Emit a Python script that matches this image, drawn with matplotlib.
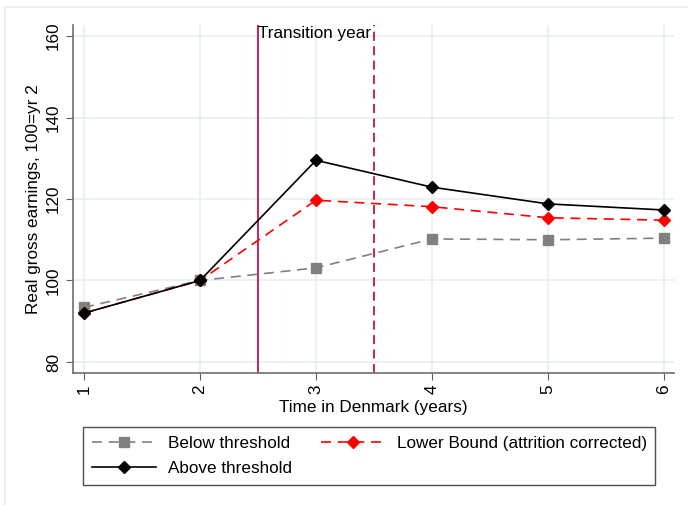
import matplotlib.pyplot as plt
from matplotlib.lines import Line2D

plt.rcParams['font.family'] = ['Liberation Sans', 'DejaVu Sans']

# years in Denmark and indexed earnings (100 = year 2)
years = [1, 2, 3, 4, 5, 6]
below = [93.4, 100.0, 103.1, 110.2, 110.0, 110.4]
lower_bound = [92.0, 100.0, 119.7, 118.1, 115.4, 114.8]
above = [92.0, 100.0, 129.5, 122.9, 118.8, 117.3]

y_ticks = [80, 100, 120, 140, 160]
transition = [2.5, 3.5]

fs = 12.3

fig = plt.figure(figsize=(6.88, 5.05), dpi=100)
ax = fig.add_axes([73 / 688, 1 - 373 / 505, 601 / 688, 348 / 505])

grid_col = '#e6eef0'
for x in years:
    ax.axvline(x, color=grid_col, lw=1.1, zorder=0)
for y in y_ticks:
    ax.axhline(y, color=grid_col, lw=1.1, zorder=0)

vcol = '#c4124a'
ax.axvline(transition[0], color=vcol, lw=1.3, zorder=1)
ax.axvline(transition[1], color=vcol, lw=1.3, ls=(0, (5, 3)), zorder=1)
ax.text(transition[0], 162.4, 'Transition year', ha='left', va='top', fontsize=fs)

ax.plot(years, below, color='#808080', ls=(0, (6, 4)), lw=1.2,
        marker='s', ms=6.5, mec='#808080', mfc='#808080', zorder=3)
ax.plot(years, lower_bound, color='#ff0000', ls=(0, (6, 4)), lw=1.2,
        marker='D', ms=6.5, mec='#ff0000', mfc='#ff0000', zorder=4)
ax.plot(years, above, color='black', lw=1.2,
        marker='D', ms=6.5, mec='black', mfc='black', zorder=5)

ax.set_xlim(0.905, 6.086)
ax.set_ylim(77.3, 162.7)
ax.set_xticks(years)
ax.set_yticks(y_ticks)
ax.tick_params(axis='both', direction='out', length=5, color='#606060',
               labelsize=fs)
ax.tick_params(axis='y', labelrotation=90)
ax.tick_params(axis='x', labelrotation=90)
for lab in ax.get_yticklabels():
    lab.set_va('center')

for side in ['top', 'right']:
    ax.spines[side].set_visible(False)
for side in ['left', 'bottom']:
    ax.spines[side].set_color('#6e6e6e')
    ax.spines[side].set_linewidth(1.2)

ax.set_xlabel('Time in Denmark (years)', fontsize=fs, labelpad=4)
ax.set_ylabel('Real gross earnings, 100=yr 2', fontsize=fs, labelpad=4)

handles = [
    Line2D([], [], color='#808080', ls=(0, (6, 4)), lw=1.2, marker='s', ms=6.5,
           mfc='#808080', mec='#808080'),
    Line2D([], [], color='black', lw=1.2, marker='D', ms=6.5, mfc='black', mec='black'),
    Line2D([], [], color='#ff0000', ls=(0, (6, 4)), lw=1.2, marker='D', ms=6.5,
           mfc='#ff0000', mec='#ff0000'),
]
labels = ['Below threshold', 'Above threshold', 'Lower Bound (attrition corrected)']
leg = fig.legend(handles, labels, ncol=2, loc='upper left',
                 bbox_to_anchor=(83 / 688, 1 - 427 / 505),
                 fontsize=fs, handlelength=3.8, handletextpad=0.65,
                 columnspacing=1.7, frameon=True, fancybox=False,
                 edgecolor='#222222', borderaxespad=0, labelspacing=0.62,
                 borderpad=0.5)
leg.get_frame().set_linewidth(1.0)

# light border around the graph region
fig.add_artist(Line2D([5 / 688, 5 / 688], [0, 1 - 7 / 505],
                      transform=fig.transFigure, color='#e6eef0', lw=1.2))
fig.add_artist(Line2D([5 / 688, 1], [1 - 7 / 505, 1 - 7 / 505],
                      transform=fig.transFigure, color='#e6eef0', lw=1.2))

fig.savefig('out.png', dpi=100)
